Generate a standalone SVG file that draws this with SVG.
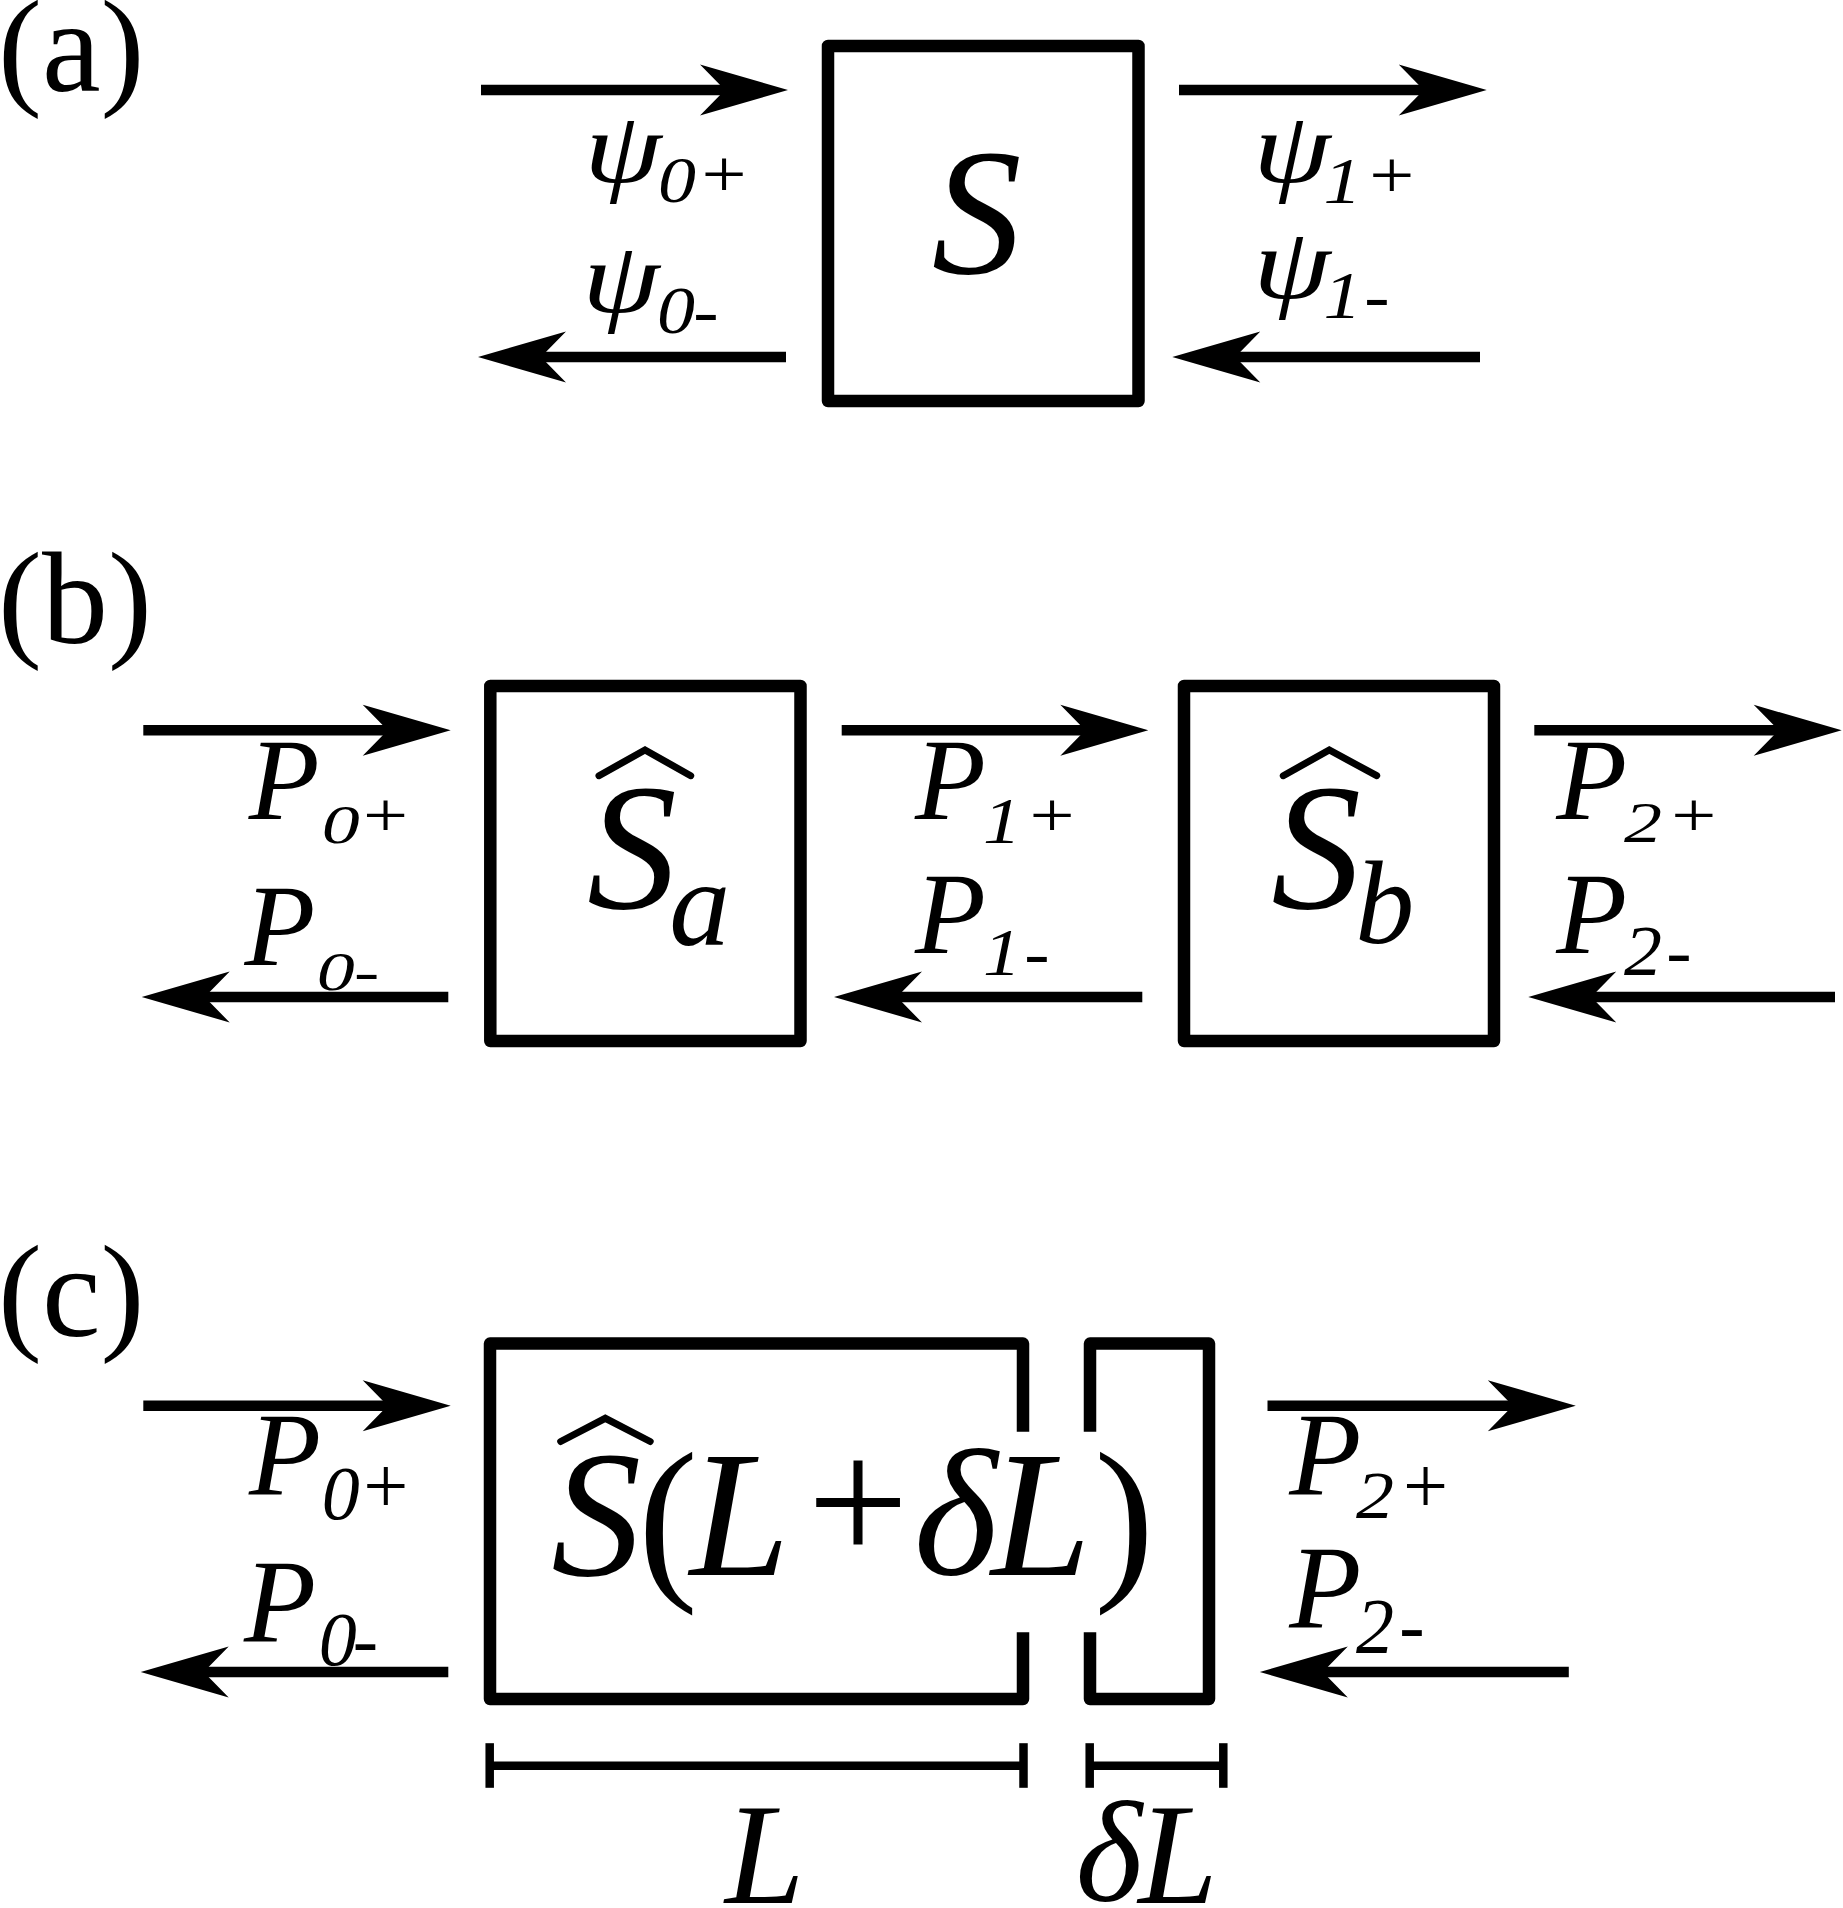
<svg xmlns="http://www.w3.org/2000/svg" width="1843" height="1908" viewBox="0 0 1843 1908" font-family="'Liberation Serif', 'Times New Roman', serif">
<style>
.bx{fill:none;stroke:#000;stroke-width:12.5;stroke-linejoin:round;stroke-linecap:butt}
.sh{stroke:#000;stroke-width:10.5;fill:none}
.dm{stroke:#000;stroke-width:8.5;fill:none}
.hat{fill:none;stroke:#000;stroke-width:7;stroke-linecap:round;stroke-linejoin:miter}
.it{font-style:italic}
.big{font-size:180px}
.lab{font-size:132px}
.P{font-size:116px;font-style:italic;text-anchor:middle}
.Pc{font-size:118px;font-style:italic;text-anchor:middle}
.psi{font-size:102px;font-style:italic;text-anchor:middle}
.sd{font-size:76px;font-style:italic;text-anchor:middle}
.sp{font-size:80px;text-anchor:middle}
.m{text-anchor:middle}
</style>
<defs>
<path id="ah" d="M0,0 L-88,-25.5 L-63,0 L-88,25.5 Z" fill="#000"/>
</defs>
<rect width="1843" height="1908" fill="#fff"/>

<g id="panel-labels">
<text class="lab" x="-2" y="91">(a)</text>
<text class="lab" x="-2" y="643">(b)</text>
<text class="lab" x="-2" y="1336">(c)</text>
</g>

<g id="connectors">
<line class="sh" x1="481" y1="90" x2="728" y2="90"/><use href="#ah" transform="translate(788,90)"/>
<line class="sh" x1="539" y1="357" x2="786" y2="357"/><use href="#ah" transform="translate(478,357) scale(-1,1)"/>
<line class="sh" x1="1179" y1="90" x2="1426" y2="90"/><use href="#ah" transform="translate(1486.7,90)"/>
<line class="sh" x1="1233" y1="357" x2="1480" y2="357"/><use href="#ah" transform="translate(1172.3,357) scale(-1,1)"/>
<line class="sh" x1="143.3" y1="730.3" x2="390" y2="730.3"/><use href="#ah" transform="translate(450.7,730.3)"/>
<line class="sh" x1="202" y1="997" x2="448.3" y2="997"/><use href="#ah" transform="translate(141.7,997) scale(-1,1)"/>
<line class="sh" x1="841.7" y1="730.3" x2="1088" y2="730.3"/><use href="#ah" transform="translate(1148.3,730.3)"/>
<line class="sh" x1="895" y1="997" x2="1142.3" y2="997"/><use href="#ah" transform="translate(834,997) scale(-1,1)"/>
<line class="sh" x1="1534.3" y1="730.3" x2="1781" y2="730.3"/><use href="#ah" transform="translate(1841.7,730.3)"/>
<line class="sh" x1="1589" y1="997" x2="1835" y2="997"/><use href="#ah" transform="translate(1528.3,997) scale(-1,1)"/>
<line class="sh" x1="143.3" y1="1405.8" x2="390" y2="1405.8"/><use href="#ah" transform="translate(450.7,1405.8)"/>
<line class="sh" x1="201" y1="1672" x2="448.3" y2="1672"/><use href="#ah" transform="translate(140.7,1672) scale(-1,1)"/>
<line class="sh" x1="1267.5" y1="1405.8" x2="1515" y2="1405.8"/><use href="#ah" transform="translate(1575.8,1405.8)"/>
<line class="sh" x1="1320" y1="1672" x2="1568.8" y2="1672"/><use href="#ah" transform="translate(1259.8,1672) scale(-1,1)"/>
</g>

<g id="node-a-S">
<rect class="bx" x="828" y="46" width="310.5" height="355"/>
<text class="big it m" x="976.7" y="273">S</text>
</g>

<g id="labels-a">
<text class="psi" transform="translate(623,182) scale(1.22,1)">ψ</text>
<text class="sd" transform="translate(677,202) scale(1,0.86)">0</text>
<text class="sp" transform="translate(724,197) scale(1,0.84)">+</text>
<text class="psi" transform="translate(621,312) scale(1.22,1)">ψ</text>
<text class="sd" transform="translate(676,332.5) scale(1,0.89)">0</text>
<text class="sd" transform="translate(706,332.5) scale(1,0.89)">-</text>
<text class="psi" transform="translate(1292,182.3) scale(1.22,1)">ψ</text>
<text class="sd" transform="translate(1342.5,202.7) scale(1,0.86)">1</text>
<text class="sp" transform="translate(1391.7,197.7) scale(1,0.84)">+</text>
<text class="psi" transform="translate(1292,298.3) scale(1.22,1)">ψ</text>
<text class="sd" transform="translate(1342.5,318.3) scale(1,0.9)">1</text>
<text class="sd" transform="translate(1377,318.3) scale(1,0.9)">-</text>
</g>

<g id="node-b-Sa">
<rect class="bx" x="490.3" y="686" width="310.2" height="355"/>
<polyline class="hat" points="599,775.7 645,750 690.7,775.7"/>
<text class="big it m" x="632" y="908">S</text>
<text class="it m" style="font-size:122px" x="699.7" y="944.5">a</text>
</g>

<g id="node-b-Sb">
<rect class="bx" x="1184" y="686" width="310" height="355"/>
<polyline class="hat" points="1283.3,775.7 1329.3,750 1376.7,775.7"/>
<text class="big it m" x="1316.3" y="908">S</text>
<text class="it m" style="font-size:118px" x="1384.7" y="943">b</text>
</g>

<g id="labels-b">
<text class="P" x="284.2" y="819.3">P</text>
<text class="sd" transform="translate(340.8,842.5) scale(1,0.72)">0</text>
<text class="sp" transform="translate(385.5,836.7) scale(1,0.8)">+</text>
<text class="P" x="280" y="965">P</text>
<text class="sd" transform="translate(335.8,989.5) scale(1,0.72)">0</text>
<text class="sd" transform="translate(366.7,989.5) scale(1,0.72)">-</text>
<text class="P" x="950.5" y="819.3">P</text>
<text class="sd" transform="translate(1002,842.5) scale(1,0.85)">1</text>
<text class="sp" transform="translate(1052,836.7) scale(1,0.8)">+</text>
<text class="P" x="950.5" y="953">P</text>
<text class="sd" transform="translate(1002,975) scale(1,0.9)">1</text>
<text class="sd" transform="translate(1037,975) scale(1,0.9)">-</text>
<text class="P" x="1591.7" y="819.3">P</text>
<text class="sd" transform="translate(1643,841.7) scale(1,0.75)">2</text>
<text class="sp" transform="translate(1693.8,836.7) scale(1,0.8)">+</text>
<text class="P" x="1591.7" y="952.7">P</text>
<text class="sd" transform="translate(1643,975) scale(1,0.94)">2</text>
<text class="sd" transform="translate(1679,975) scale(1,0.94)">-</text>
</g>

<g id="node-c-SL">
<path class="bx" d="M1023,1431.8 V1343.6 H490 V1699 H1023 V1632.3"/>
</g>
<g id="node-c-dL">
<path class="bx" d="M1090,1431.8 V1343.6 H1209 V1699 H1090 V1632.3"/>
</g>
<g id="label-c-main">
<polyline class="hat" points="560.7,1441.5 605.3,1418.3 650.2,1441.5"/>
<text class="big it m" x="596.2" y="1574.5">S</text>
<text class="big m" x="667.9" y="1577">(</text>
<text class="big it m" x="739.7" y="1575.3">L</text>
<text class="big m" x="858" y="1562">+</text>
<text class="big it m" x="955.7" y="1573.5">δ</text>
<text class="big it m" x="1041" y="1575.3">L</text>
<text class="big m" x="1124.3" y="1577">)</text>
</g>

<g id="labels-c">
<text class="Pc" x="285" y="1495">P</text>
<text class="sd" transform="translate(340.8,1518.5)">0</text>
<text class="sp" transform="translate(385.8,1512.7)">+</text>
<text class="Pc" x="280" y="1641.7">P</text>
<text class="sd" transform="translate(337.8,1665)">0</text>
<text class="sd" transform="translate(365.3,1665)">-</text>
<text class="Pc" x="1325.2" y="1495">P</text>
<text class="sd" transform="translate(1375,1518.3) scale(1,0.89)">2</text>
<text class="sp" transform="translate(1425.5,1513.3)">+</text>
<text class="Pc" x="1325.2" y="1627.6">P</text>
<text class="sd" transform="translate(1375,1652) scale(1,1.04)">2</text>
<text class="sd" transform="translate(1411.8,1652) scale(1,1.04)">-</text>
</g>

<g id="dimensions">
<line class="dm" x1="489.7" y1="1743.2" x2="489.7" y2="1787.8"/>
<line class="dm" x1="1023.5" y1="1743.2" x2="1023.5" y2="1787.8"/>
<line class="dm" x1="489.7" y1="1765.7" x2="1023.5" y2="1765.7"/>
<line class="dm" x1="1089.7" y1="1743.2" x2="1089.7" y2="1787.8"/>
<line class="dm" x1="1223.3" y1="1743.2" x2="1223.3" y2="1787.8"/>
<line class="dm" x1="1089.7" y1="1765.7" x2="1223.3" y2="1765.7"/>
<text class="it m" style="font-size:143px" x="764.7" y="1903">L</text>
<text class="it m" style="font-size:143px" x="1109" y="1901">δ</text>
<text class="it m" style="font-size:143px" x="1178" y="1903">L</text>
</g>
</svg>
